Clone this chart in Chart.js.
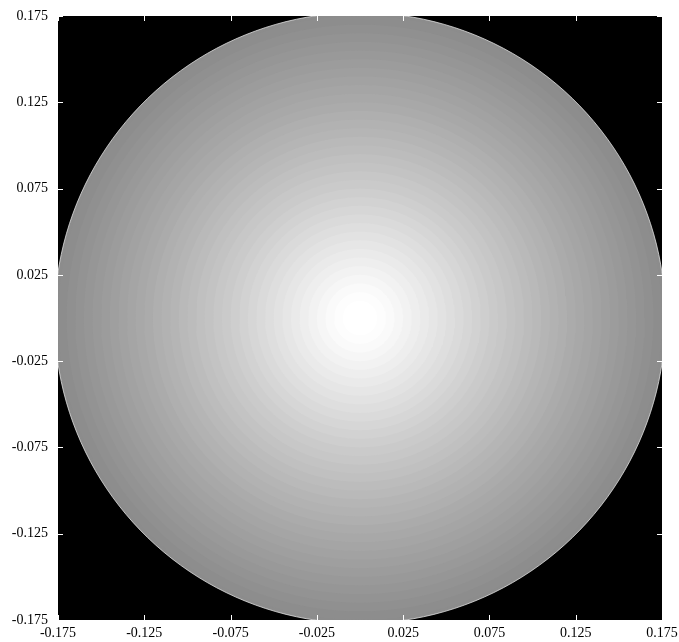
<!DOCTYPE html>
<html>
<head>
<meta charset="utf-8">
<script src="https://cdn.jsdelivr.net/npm/chart.js@4/dist/chart.umd.min.js"></script>
<style>
  body { margin: 0; background: #fff; }
  #wrap { width: 679px; height: 642px; }
</style>
</head>
<body>
<div id="wrap"><canvas id="chart1" width="679" height="642"></canvas></div>
<script>
// tick labels, same on both axes
var xTicks = [-0.175, -0.125, -0.075, -0.025, 0.025, 0.075, 0.125, 0.175];
var yTicks = [-0.175, -0.125, -0.075, -0.025, 0.025, 0.075, 0.125, 0.175];

// grey level of the disc, by distance from the centre
var ringRadius = [0.005, 0.010, 0.015, 0.020, 0.025, 0.030, 0.035, 0.040, 0.045, 0.050,
                  0.055, 0.060, 0.065, 0.070, 0.075, 0.080, 0.085, 0.090, 0.095, 0.100,
                  0.105, 0.110, 0.115, 0.120, 0.125, 0.130, 0.135, 0.140, 0.145, 0.150,
                  0.155, 0.160, 0.165, 0.170, 0.175, 0.177];
var ringGrey = [255, 255, 253, 250, 246, 242, 238, 234, 230, 226,
                222, 218, 214, 210, 206, 202, 199, 195, 192, 188,
                185, 181, 178, 175, 171, 168, 165, 162, 159, 156,
                153, 150, 147, 144, 141, 140];

// each ring is a filled circle, the small ones drawn on top
function circle(r) {
    var pts = [];
    for (var i = 0; i <= 180; i++) {
        var t = i / 180 * 2 * Math.PI;
        pts.push({ x: r * Math.cos(t), y: r * Math.sin(t) });
    }
    return pts;
}

var datasets = [];
for (var i = 0; i < ringRadius.length; i++) {
    var g = ringGrey[i];
    var last = (i == ringRadius.length - 1);
    datasets.push({
        data: circle(ringRadius[i]),
        showLine: true,
        fill: 'shape',
        backgroundColor: 'rgb(' + g + ',' + g + ',' + g + ')',
        borderColor: last ? 'rgba(225,225,225,0.8)' : 'rgba(0,0,0,0)',
        borderWidth: last ? 1 : 0,
        pointRadius: 0,
        tension: 0
    });
}

// black plot area
var blackBg = {
    id: 'blackBg',
    beforeDatasetsDraw: function(chart) {
        var a = chart.chartArea;
        var ctx = chart.ctx;
        ctx.save();
        ctx.fillStyle = '#000';
        ctx.fillRect(a.left, a.top, a.right - a.left, a.bottom - a.top);
        ctx.restore();
    }
};

// white tick marks pointing inwards, on all four sides
var innerTicks = {
    id: 'innerTicks',
    afterDatasetsDraw: function(chart) {
        var a = chart.chartArea;
        var ctx = chart.ctx;
        var len = 5;
        ctx.save();
        ctx.strokeStyle = '#fff';
        ctx.lineWidth = 1;
        ctx.beginPath();
        xTicks.forEach(function(v) {
            var px = Math.round(chart.scales.x.getPixelForValue(v)) + 0.5;
            ctx.moveTo(px, a.bottom); ctx.lineTo(px, a.bottom - len);
            ctx.moveTo(px, a.top); ctx.lineTo(px, a.top + len);
        });
        yTicks.forEach(function(v) {
            var py = Math.round(chart.scales.y.getPixelForValue(v)) + 0.5;
            ctx.moveTo(a.left, py); ctx.lineTo(a.left + len, py);
            ctx.moveTo(a.right, py); ctx.lineTo(a.right - len, py);
        });
        ctx.stroke();
        ctx.restore();
    }
};

var font = { family: 'Liberation Serif', size: 14 };

new Chart(document.getElementById('chart1').getContext('2d'), {
    type: 'scatter',
    data: { datasets: datasets },
    plugins: [blackBg, innerTicks],
    options: {
        responsive: false,
        animation: false,
        layout: { padding: { top: 16, right: 17, bottom: 0, left: 0 } },
        plugins: { legend: { display: false }, tooltip: { enabled: false } },
        scales: {
            x: {
                type: 'linear',
                min: -0.175,
                max: 0.175,
                grid: { display: false, drawTicks: false },
                border: { display: false },
                afterBuildTicks: function(scale) {
                    scale.ticks = xTicks.map(function(v) { return { value: v }; });
                },
                afterFit: function(scale) {
                    scale.height = 22;
                    scale.paddingLeft = 0;
                    scale.paddingRight = 0;
                },
                ticks: {
                    font: font,
                    color: '#000',
                    padding: 5,
                    maxRotation: 0,
                    autoSkip: false,
                    callback: function(v) { return v.toFixed(3); }
                }
            },
            y: {
                type: 'linear',
                min: -0.175,
                max: 0.175,
                grid: { display: false, drawTicks: false },
                border: { display: false },
                afterBuildTicks: function(scale) {
                    scale.ticks = yTicks.map(function(v) { return { value: v }; });
                },
                afterFit: function(scale) {
                    scale.width = 58;
                    scale.paddingTop = 0;
                    scale.paddingBottom = 0;
                },
                ticks: {
                    font: font,
                    color: '#000',
                    padding: 10,
                    autoSkip: false,
                    callback: function(v) { return v.toFixed(3); }
                }
            }
        }
    }
});
</script>
</body>
</html>
